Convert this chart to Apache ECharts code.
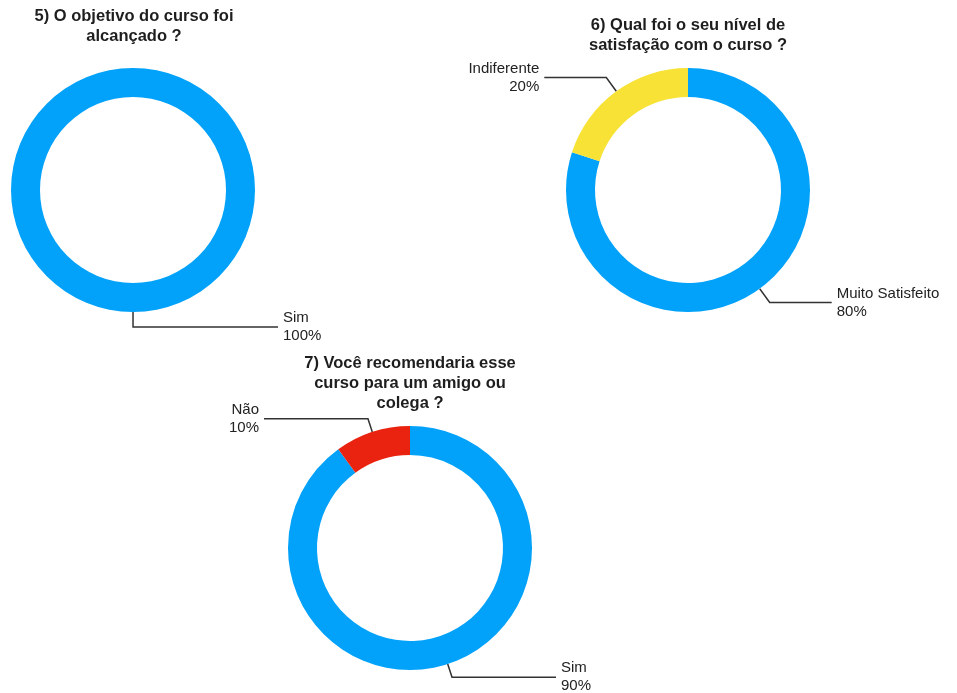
<!DOCTYPE html>
<html>
<head>
<meta charset="utf-8">
<script src="https://cdn.jsdelivr.net/npm/echarts@6/dist/echarts.min.js"></script>
<style>
  html, body { margin: 0; padding: 0; background: #fff; }
  #chart { width: 957px; height: 693px; }
</style>
</head>
<body>
<div id="chart"></div>
<script>
// survey answers, one small set per question
const q5Title = '5) O objetivo do curso foi\nalcançado ?';
const q5Names = ['Sim'];
const q5Values = [100];

const q6Title = '6) Qual foi o seu nível de\nsatisfação com o curso ?';
const q6Names = ['Muito Satisfeito', 'Indiferente'];
const q6Values = [80, 20];

const q7Title = '7) Você recomendaria esse\ncurso para um amigo ou\ncolega ?';
const q7Names = ['Sim', 'Não'];
const q7Values = [90, 10];

const FONT = '"Liberation Sans", Arial, sans-serif';
const colors = {
  'Sim': '#02a2fa',
  'Muito Satisfeito': '#02a2fa',
  'Indiferente': '#f7e235',
  'Não': '#e9230f',
};

function toData(names, values) {
  return names.map((name, i) => ({
    name,
    value: values[i],
    itemStyle: { color: colors[name] },
  }));
}

function makeTitle(text, x, y) {
  return {
    text,
    left: x,
    top: y,
    padding: 0,
    textAlign: 'center',
    textStyle: {
      fontFamily: FONT,
      fontSize: 16.5,
      fontWeight: 'bold',
      color: '#1e1e1e',
      lineHeight: 20,
    },
  };
}

// startAngle a hair past 90 so a full ring still puts its label on the right
function makePie(names, values, center, len, len2, start) {
  return {
    type: 'pie',
    center,
    radius: [93, 122],
    startAngle: start || 90,
    clockwise: true,
    avoidLabelOverlap: false,
    silent: true,
    label: {
      show: true,
      formatter: '{b}\n{d}%',
      fontFamily: FONT,
      fontSize: 15,
      lineHeight: 18,
      color: '#222',
    },
    labelLine: {
      show: true,
      length: len,
      length2: len2,
      lineStyle: { color: '#333', width: 1.5 },
    },
    data: toData(names, values),
  };
}

const chart = echarts.init(document.getElementById('chart'));
chart.setOption({
  animation: false,
  backgroundColor: '#fff',
  title: [
    makeTitle(q5Title, 134, 6),
    makeTitle(q6Title, 688, 15),
    makeTitle(q7Title, 410, 353),
  ],
  series: [
    makePie(q5Names, q5Values, [133, 190], 15, 145, 90.01),
    makePie(q6Names, q6Values, [688, 190], 17, 62),
    makePie(q7Names, q7Values, [410, 548], 14, 104),
  ],
});
</script>
</body>
</html>
